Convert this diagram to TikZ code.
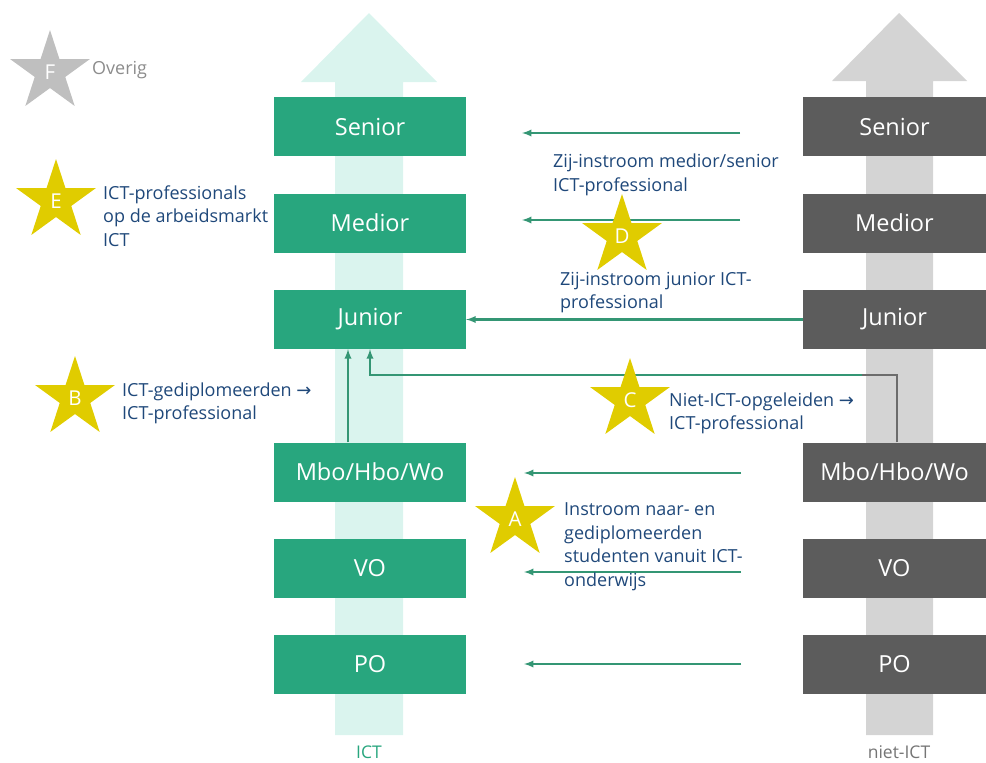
\documentclass[tikz,border=0pt]{standalone}
\usepackage{fontspec}
\setmainfont{Open Sans}
\newfontfamily\pijlfont{DejaVu Sans}
\usepackage{xcolor}
\usetikzlibrary{shapes.geometric}
\usetikzlibrary{arrows,calc,positioning}

\definecolor{ictgroen}{RGB}{40,166,126}
\definecolor{ictlicht}{RGB}{218,244,238}
\definecolor{donkergrijs}{RGB}{92,92,92}
\definecolor{lichtgrijs}{RGB}{212,212,212}
\definecolor{stergeel}{RGB}{224,204,0}
\definecolor{stergrijs}{RGB}{191,191,191}
\definecolor{tekstblauw}{RGB}{31,72,122}
\definecolor{lijngroen}{RGB}{52,150,116}

\begin{document}
\begin{tikzpicture} [
       x=1pt, y=-1pt,
       ictblok/.style={rectangle, fill=ictgroen, text=white, inner sep=0pt,
               minimum width=192pt, minimum height=59pt,
               font=\fontsize{23.5}{27}\selectfont},
       nietblok/.style={ictblok, fill=donkergrijs, minimum width=183pt},
       ster/.style={star, star points=5, star point ratio=2.618, fill=stergeel,
               minimum size=84pt, inner sep=0pt, text=white,
               font=\fontsize{20.5}{24}\selectfont},
       texte/.style={anchor=west, inner sep=0pt, align=left, text=tekstblauw,
               font=\fontsize{18}{23.5}\selectfont},
       line/.style = {draw, lijngroen, line width=2.2pt, -latex},
       ]
       \useasboundingbox (0,0) rectangle (986,763);
       % brede pijlen op de achtergrond
       \fill[ictlicht] (335,735) -- (335,82) -- (301,82) -- (369,13) -- (437,82) -- (403,82) -- (403,735) -- cycle;
       \fill[lichtgrijs] (866,735) -- (866,81) -- (832,81) -- (899,13) -- (967,81) -- (933,81) -- (933,735) -- cycle;
       \node (ictlabel) [inner sep=0pt, text=ictgroen, font=\fontsize{17.5}{20}\selectfont] at (369,752) {ICT};
       \node (nietlabel) [inner sep=0pt, text=donkergrijs!85, font=\fontsize{17.5}{20}\selectfont] at (899,752) {niet-ICT};

       % ICT-kolom
       \node (senior) [ictblok] at (370,126.5) {Senior};
       \node (medior) [ictblok] at (370,223) {Medior};
       \node (junior) [ictblok] at (370,319.5) {Junior};
       \node (mbo) [ictblok] at (370,472) {Mbo/Hbo/Wo};
       \node (vo) [ictblok] at (370,568) {VO};
       \node (po) [ictblok] at (370,664.5) {PO};

       % niet-ICT-kolom
       \node (nsenior) [nietblok] at (894.5,126.5) {Senior};
       \node (nmedior) [nietblok] at (894.5,223) {Medior};
       \node (njunior) [nietblok] at (894.5,319.5) {Junior};
       \node (nmbo) [nietblok] at (894.5,472) {Mbo/Hbo/Wo};
       \node (nvo) [nietblok] at (894.5,568) {VO};
       \node (npo) [nietblok] at (894.5,664.5) {PO};

       \coordinate (s-van) at (740,133);  \coordinate (s-naar) at (522,133);
       \coordinate (m-van) at (740,220);  \coordinate (m-naar) at (522,220);
       \coordinate (h-van) at (741,473);  \coordinate (h-naar) at (524,473);
       \coordinate (v-van) at (741,572);  \coordinate (v-naar) at (524,572);
       \coordinate (p-van) at (741,664);  \coordinate (p-naar) at (524,664);
       \coordinate (knik) at (897,375);
       \coordinate (overgang) at (862,375);

       \draw[donkergrijs!90, line width=2.2pt] ([xshift=2.5pt]nmbo.north) -- (knik) -- (overgang);
       \begin{scope}[every path/.style=line]
       \path (s-van) -- (s-naar);
       \path (m-van) -- (m-naar);
       \path (njunior.west) -- (junior.east);
       \path (h-van) -- (h-naar);
       \path (v-van) -- (v-naar);
       \path (p-van) -- (p-naar);
       \path ([xshift=-22pt]mbo.north) -- ([xshift=-22pt]junior.south);
       \path (overgang) -| (junior.south);
       \end{scope}

       % sterren
       \node (sterf) [ster, fill=stergrijs] at (50,72) {F};
       \node (stere) [ster] at (56,201) {E};
       \node (sterb) [ster] at (75,398) {B};
       \node (sterd) [ster] at (622,236) {D};
       \node (sterc) [ster] at (630,400) {C};
       \node (stera) [ster] at (515,519) {A};

       \node (overig) [texte, text=gray!90] at (92,70) {Overig};
       \node (tekste) [texte] at (103,216) {ICT-professionals\\op de arbeidsmarkt\\ICT};
       \node (tekstb) [texte] at (122,403.5) {ICT-gediplomeerden {\pijlfont →}\\ICT-professional};
       \node (tekstd) [texte] at (553,175) {Zij-instroom medior/senior\\ICT-professional};
       \node (tekstj) [texte] at (560,292.5) {Zij-instroom junior ICT-\\professional};
       \node (tekstc) [texte] at (669,413.5) {Niet-ICT-opgeleiden {\pijlfont →}\\ICT-professional};
       \node (teksta) [texte] at (564,546.5) {Instroom naar- en\\gediplomeerden\\studenten vanuit ICT-\\onderwijs};
\end{tikzpicture}
\end{document}
